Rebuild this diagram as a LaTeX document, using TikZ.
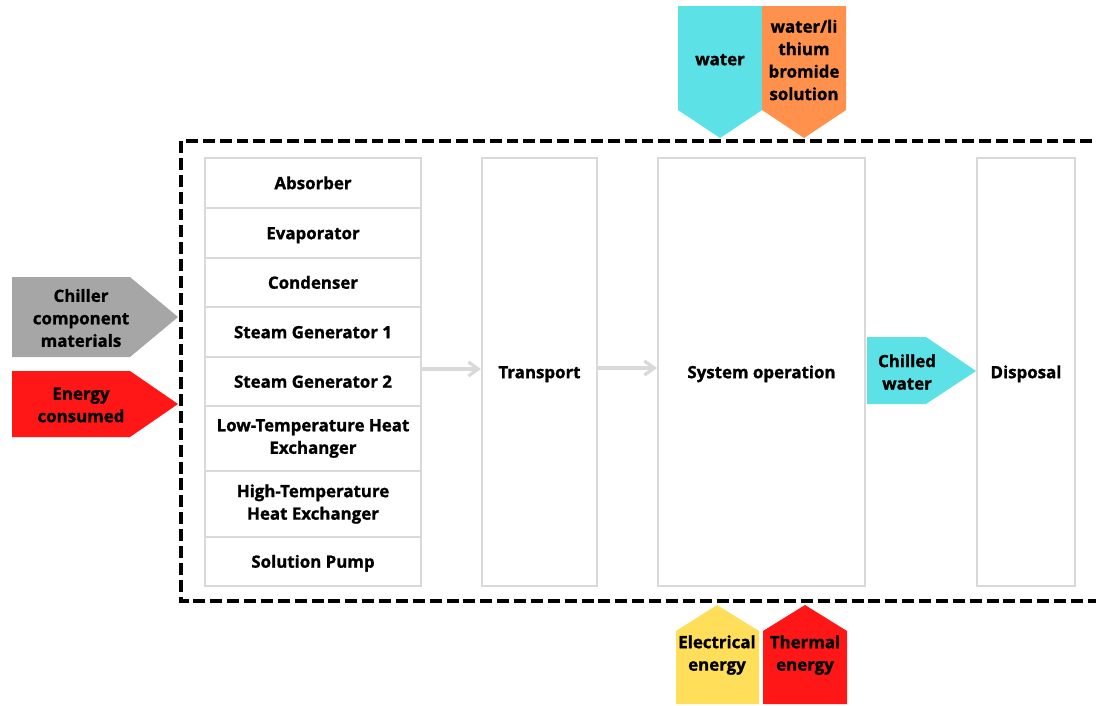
\documentclass[tikz,border=0pt]{standalone}
\usepackage{fontspec}
\setmainfont{Open Sans}[BoldFeatures={FakeBold=1.2}]
\usetikzlibrary{arrows.meta}
\definecolor{boxgray}{HTML}{D9D9D9}
\definecolor{chillcyan}{HTML}{5CE1E6}
\definecolor{solorange}{HTML}{FF914D}
\definecolor{matgray}{HTML}{A6A6A6}
\definecolor{enred}{HTML}{FF1616}
\definecolor{elyellow}{HTML}{FFDE59}

\begin{document}
\begin{tikzpicture}[x=0.025cm,y=-0.025cm]
    \clip (0,0) rectangle (1096,705);
    \tikzstyle{lbl}=[align=center, inner sep=0pt, font=\bfseries\fontsize{12}{16}\selectfont]
    \tikzstyle{one}=[text height=8.8pt, text depth=0pt]
    \tikzstyle{comp}=[lbl, minimum width=5.4cm, minimum height=1.25cm, draw=boxgray, line width=1.4pt]
    \tikzstyle{stage}=[lbl, one, minimum height=10.7cm, draw=boxgray, line width=1.4pt]
    \tikzstyle{bound}=[line width=2.5pt, dash pattern=on 8.5pt off 3.5pt]

    % system boundary
    \draw[bound] (181,141) rectangle (1130,601);

    % chiller components
    \node[comp, one] (C01) at (313, 183) {Absorber};
    \node[comp, one] (C02) at (313, 233) {Evaporator};
    \node[comp, one, minimum height=1.225cm] (C03) at (313, 282.5) {Condenser};
    \node[comp, one] (C04) at (313, 332) {Steam Generator 1};
    \node[comp, one, minimum height=1.225cm] (C05) at (313, 381.5) {Steam Generator 2};
    \node[comp, minimum height=1.625cm] (C06) at (313, 438.5) {Low-Temperature Heat\\Exchanger};
    \node[comp, minimum height=1.65cm] (C07) at (313, 504) {High-Temperature\\Heat Exchanger};
    \node[comp, one, minimum height=1.225cm] (C08) at (313, 561.5) {Solution Pump};

    % life cycle stages
    \node[stage, minimum width=2.875cm] (S01) at (539.5, 372) {Transport};
    \node[stage, minimum width=5.175cm] (S02) at (761.5, 372) {System operation};
    \node[stage, minimum width=2.45cm] (S03) at (1026, 372) {Disposal};

    \tikzstyle{link}=[-{Straight Barb[length=7pt,width=10pt]}, line width=2.3pt, draw=boxgray]
    \draw[link] (C05.east |- 0,369) -- (S01.west |- 0,369);
    \draw[link] (S01.east |- 0,368) -- (S02.west |- 0,368);

    % inputs and outputs
    \fill[matgray] (12,277) -- (130,277) -- (178,317) -- (130,357) -- (12,357) -- cycle;
    \node[lbl] (I01) at (81, 318) {Chiller\\component\\materials};
    \fill[enred] (12,371) -- (130,371) -- (178,404) -- (130,437) -- (12,437) -- cycle;
    \node[lbl] (I02) at (81, 405) {Energy\\consumed};
    \fill[chillcyan] (867,337) -- (926,337) -- (976,371) -- (926,404) -- (867,404) -- cycle;
    \node[lbl] (O01) at (907, 372) {Chilled\\water};

    \fill[chillcyan] (678,6) -- (762,6) -- (762,110) -- (720,138) -- (678,110) -- cycle;
    \node[lbl, one] (I03) at (720, 59) {water};
    \fill[solorange] (762,6) -- (846,6) -- (846,110) -- (804,138) -- (762,110) -- cycle;
    \node[lbl] (I04) at (804, 60) {water/li\\thium\\bromide\\solution};

    \fill[elyellow] (676,704) -- (759,704) -- (759,631) -- (717,605) -- (676,631) -- cycle;
    \node[lbl] (I05) at (717, 655) {Electrical\\energy};
    \fill[enred] (763,704) -- (847,704) -- (847,631) -- (805,605) -- (763,631) -- cycle;
    \node[lbl] (I06) at (805, 655) {Thermal\\energy};
\end{tikzpicture}
\end{document}
